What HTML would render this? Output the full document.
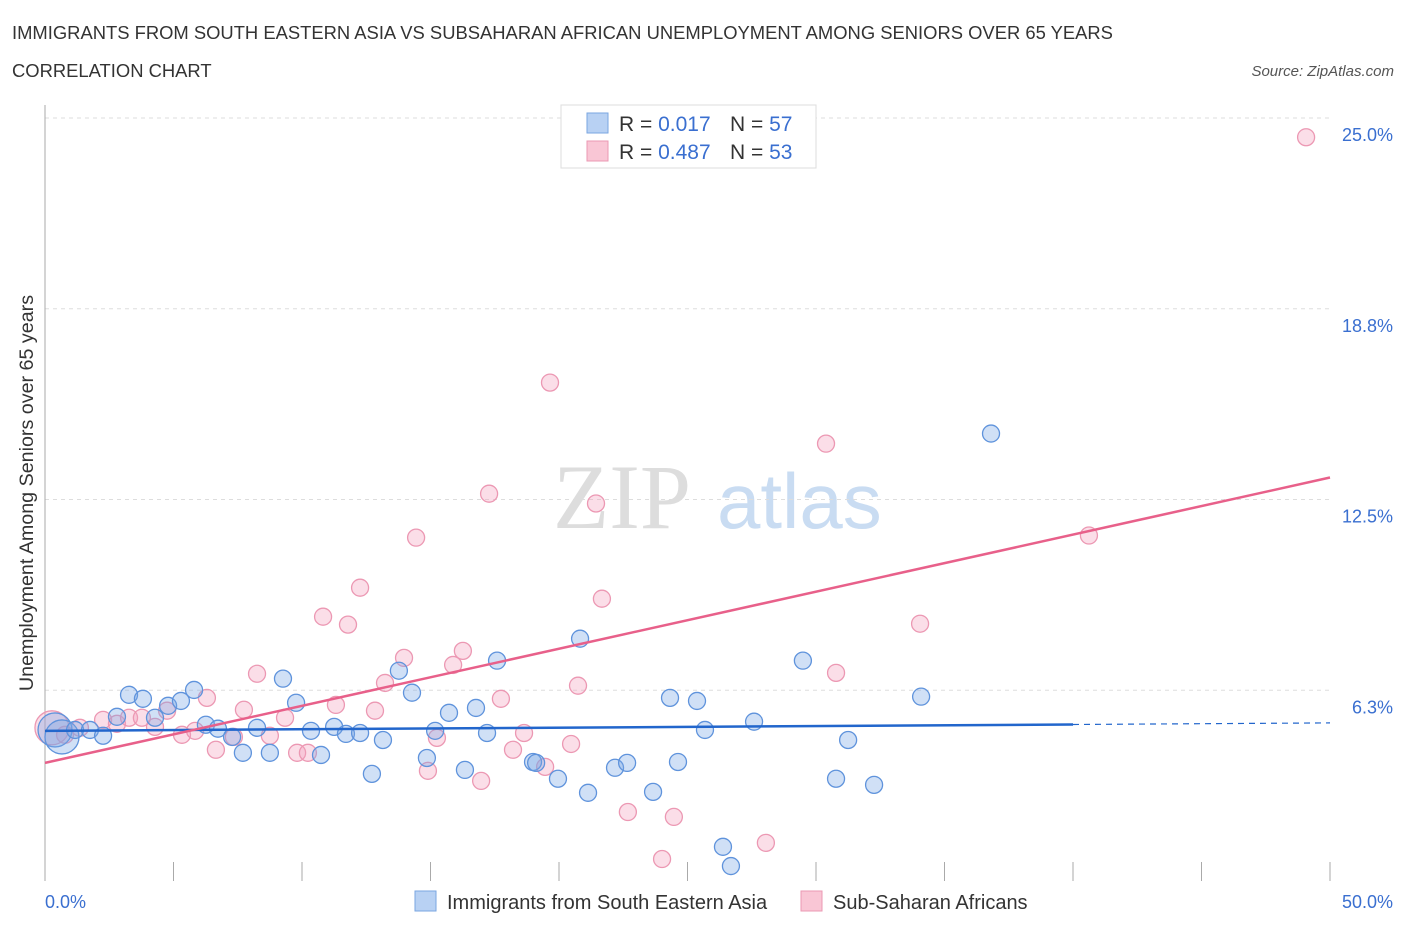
<!DOCTYPE html>
<html><head><meta charset="utf-8"><style>
body{margin:0;background:#fff;font-family:"Liberation Sans",sans-serif}
</style></head><body>
<svg id="c" width="1406" height="930" xmlns="http://www.w3.org/2000/svg" font-family="Liberation Sans, sans-serif">
<text x="12" y="39" font-size="18.4" fill="#333">IMMIGRANTS FROM SOUTH EASTERN ASIA VS SUBSAHARAN AFRICAN UNEMPLOYMENT AMONG SENIORS OVER 65 YEARS</text>
<text x="12" y="77" font-size="18.4" fill="#333">CORRELATION CHART</text>
<text x="1394" y="76" font-size="15" fill="#555" font-style="italic" text-anchor="end">Source: ZipAtlas.com</text>
<g><text x="553" y="528" font-size="92" fill="#ddd" font-family="Liberation Serif, serif">ZIP</text><text x="717" y="528" font-size="78" fill="#c9dcf2">atlas</text></g>
<g id="grid"></g><g id="axes"></g><g id="pts"></g><g id="lines"></g>
<text transform="translate(33,493) rotate(-90)" font-size="19.7" fill="#333" text-anchor="middle">Unemployment Among Seniors over 65 years</text>
<g>
<rect x="561" y="105" width="255" height="63" fill="#fff" stroke="#ddd"/>
<rect x="587" y="113" width="21" height="20" fill="#b8d1f3" stroke="#7aa6e0"/>
<rect x="587" y="141" width="21" height="20" fill="#f9c6d5" stroke="#eb98b3"/>
<text x="619" y="131" font-size="21" fill="#333">R = <tspan fill="#3a6fd0">0.017</tspan><tspan x="730">N = </tspan><tspan fill="#3a6fd0">57</tspan></text>
<text x="619" y="159" font-size="21" fill="#333">R = <tspan fill="#3a6fd0">0.487</tspan><tspan x="730">N = </tspan><tspan fill="#3a6fd0">53</tspan></text>
</g>
<g>
<rect x="415" y="891" width="21" height="20" fill="#b8d1f3" stroke="#7aa6e0"/>
<text x="447" y="909" font-size="20" fill="#333">Immigrants from South Eastern Asia</text>
<rect x="801" y="891" width="21" height="20" fill="#f9c6d5" stroke="#eb98b3"/>
<text x="833" y="909" font-size="20" fill="#333">Sub-Saharan Africans</text>
</g>
</svg>
<script>
const yTicks=[6.25,12.5,18.75,25];
const yTickLabels=["6.3%","12.5%","18.8%","25.0%"];
const xTickLabels=["0.0%","50.0%"];
const blueX=[0.39,0.66,1.17,1.75,2.26,2.80,3.27,3.81,4.28,4.79,5.29,5.80,6.26,6.73,7.28,7.70,8.25,8.75,9.26,9.77,10.35,10.74,11.25,11.71,12.26,12.72,13.15,13.77,14.28,14.86,15.18,15.72,16.34,16.77,17.20,17.59,18.99,19.11,19.96,20.82,21.13,22.18,22.65,23.66,24.32,24.63,25.37,25.68,26.38,26.69,27.59,29.49,30.78,31.25,32.26,34.09,36.81];
const blueY=[4.95,4.72,4.95,4.95,4.76,5.38,6.10,5.97,5.35,5.74,5.90,6.26,5.12,4.99,4.72,4.20,5.02,4.20,6.63,5.84,4.92,4.13,5.05,4.82,4.85,3.51,4.62,6.89,6.17,4.03,4.92,5.51,3.64,5.67,4.85,7.22,3.90,3.87,3.35,7.94,2.89,3.71,3.87,2.92,6.00,3.90,5.90,4.95,1.12,0.49,5.22,7.22,3.35,4.62,3.15,6.04,14.66];
const pinkX=[0.27,0.78,1.36,2.26,2.80,3.27,3.77,4.28,4.75,5.33,5.84,6.30,6.65,7.35,7.74,8.25,8.75,9.34,9.81,10.23,10.82,11.32,11.79,12.26,12.84,13.23,13.97,14.44,14.90,15.25,15.88,16.26,16.97,17.28,17.74,18.21,18.64,19.46,19.65,20.47,20.74,21.44,21.67,22.68,24.01,24.47,28.05,30.39,30.78,34.05,40.62,49.07];
const pinkY=[5.02,4.79,5.02,5.28,5.15,5.35,5.35,5.05,5.58,4.79,4.92,6.00,4.30,4.72,5.61,6.79,4.76,5.35,4.20,4.20,8.66,5.77,8.40,9.61,5.58,6.49,7.31,11.25,3.61,4.69,7.08,7.54,3.28,12.69,5.97,4.30,4.85,3.74,16.33,4.49,6.40,12.37,9.25,2.26,0.72,2.10,1.25,14.33,6.82,8.43,11.32,24.37];
const bigBlue=[0,1];const bigPink=[0];
const blueTrend=[4.92,0.0052];const pinkTrend=[3.87,0.187];
const NS="http://www.w3.org/2000/svg";
const X=v=>45+v/50*1285, Y=v=>881-v/25*763;
function mk(t,a,p){const e=document.createElementNS(NS,t);for(const k in a)e.setAttribute(k,a[k]);document.getElementById(p).appendChild(e);return e;}
yTicks.forEach((t,i)=>{
 const l=mk('line',{x1:45,x2:1330,y1:Y(t),y2:Y(t),stroke:'#ddd','stroke-dasharray':'4,4'},'grid');
 
 
 const tx=mk('text',{x:1393,y:Y(t)+23,'font-size':18,fill:'#3a6fd0','text-anchor':'end'},'grid');tx.textContent=yTickLabels[i];
 
 
});
const ax=mk('line',{x1:45,x2:45,y1:105,y2:881,stroke:'#aaa'},'axes');


for(let i=0;i<=10;i++){const t=mk('line',{x1:X(i*5),x2:X(i*5),y1:862,y2:881,stroke:'#aaa'},'axes');
 
 }
[[0,'start',45],[1,'end',1393]].forEach(([i,a,x])=>{const t=mk('text',{x:x,y:908,'font-size':18,fill:'#3a6fd0','text-anchor':a},'axes');t.textContent=xTickLabels[i];
 
 });
function pts(xs,ys,big,fill,stroke,name){xs.forEach((x,i)=>{const c=mk('circle',{cx:X(x),cy:Y(ys[i]),r:big.includes(i)?17:8.5,fill:fill,stroke:stroke,'stroke-width':1.3},'pts');
 
 });}
pts(pinkX,pinkY,bigPink,'rgba(244,160,188,0.35)','#ec98b3','point-subsaharan');
pts(blueX,blueY,bigBlue,'rgba(120,165,230,0.35)','#5f93dc','point-se-asia');
const b1=mk('line',{x1:X(0),y1:Y(blueTrend[0]),x2:X(40),y2:Y(blueTrend[0]+blueTrend[1]*40),stroke:'#2266cc','stroke-width':2.5},'lines');


const b2=mk('line',{x1:X(40),y1:Y(blueTrend[0]+blueTrend[1]*40),x2:X(50),y2:Y(blueTrend[0]+blueTrend[1]*50),stroke:'#2266cc','stroke-width':1.2,'stroke-dasharray':'6,5'},'lines');


const p1=mk('line',{x1:X(0),y1:Y(pinkTrend[0]),x2:X(50),y2:Y(pinkTrend[0]+pinkTrend[1]*50),stroke:'#e8608a','stroke-width':2.5},'lines');


</script>
</body></html>
